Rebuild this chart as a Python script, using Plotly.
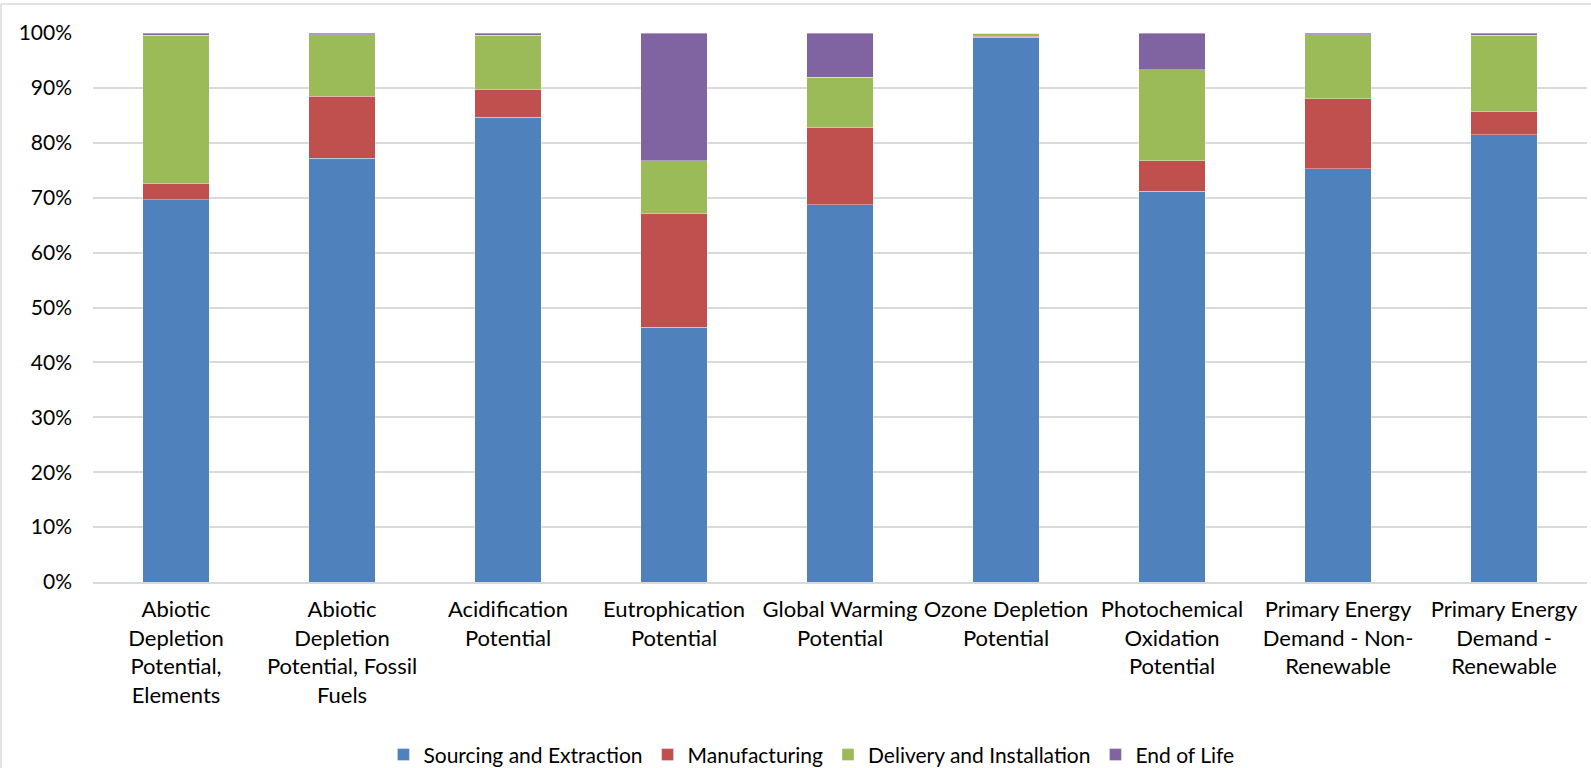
import plotly.graph_objects as go

categories = [
    "Abiotic<br>Depletion<br>Potential,<br>Elements",
    "Abiotic<br>Depletion<br>Potential, Fossil<br>Fuels",
    "Acidification<br>Potential",
    "Eutrophication<br>Potential",
    "Global Warming<br>Potential",
    "Ozone Depletion<br>Potential",
    "Photochemical<br>Oxidation<br>Potential",
    "Primary Energy<br>Demand - Non-<br>Renewable",
    "Primary Energy<br>Demand -<br>Renewable",
]
sourcing = [69.6, 77.2, 84.7, 46.4, 68.7, 99.2, 71.2, 75.3, 81.5]
manufacturing = [2.9, 11.3, 5.1, 20.7, 14.1, 0.2, 5.5, 12.7, 4.2]
delivery = [27.1, 11.2, 9.8, 9.6, 9.1, 0.6, 16.6, 11.7, 13.9]
end_of_life = [0.4, 0.3, 0.4, 23.3, 8.1, 0.0, 6.7, 0.3, 0.4]

series = [
    ("Sourcing and Extraction", sourcing, "#4F81BD"),
    ("Manufacturing", manufacturing, "#C0504D"),
    ("Delivery and Installation", delivery, "#9BBB59"),
    ("End of Life", end_of_life, "#8064A2"),
]

FONT = "Lato, Open Sans, sans-serif"

fig = go.Figure()
for name, vals, color in series:
    fig.add_trace(go.Bar(
        x=categories, y=vals, name=name,
        marker=dict(color=color, line=dict(color="rgba(255,255,255,0.6)", width=0.6)),
    ))

W, H = 1591, 768
L, R, T, B = 93, 4, 33, 186

fig.update_layout(
    barmode="stack",
    bargap=0.6,
    width=W, height=H,
    margin=dict(l=L, r=R, t=T, b=B),
    paper_bgcolor="white",
    plot_bgcolor="white",
    font=dict(family=FONT, size=21, color="#000000"),
    showlegend=True,
    legend=dict(
        orientation="h",
        xref="container", yref="container",
        x=0.51, y=0.017, xanchor="center", yanchor="middle",
        font=dict(family=FONT, size=21, color="#000000"),
        traceorder="normal",
    ),
    xaxis=dict(
        showgrid=False,
        showline=True, linecolor="#D9D9D9", linewidth=1.5,
        ticks="", tickfont=dict(family=FONT, size=22, color="#000000"),
        tickangle=0, ticklabelstandoff=7,
    ),
    yaxis=dict(
        range=[0, 100], dtick=10, ticksuffix="%",
        showgrid=True, gridcolor="#D9D9D9", gridwidth=1.5,
        zeroline=False, showline=False, ticks="",
        tickfont=dict(family=FONT, size=21, color="#000000"),
        ticklabelstandoff=20,
    ),
    shapes=[
        dict(type="line", xref="paper", yref="paper",
             x0=-(L - 1) / (W - L - R), x1=1 + R / (W - L - R),
             y0=1 + (T - 4) / (H - T - B), y1=1 + (T - 4) / (H - T - B),
             line=dict(color="#D9D9D9", width=1.5)),
        dict(type="line", xref="paper", yref="paper",
             x0=-(L - 1) / (W - L - R), x1=-(L - 1) / (W - L - R),
             y0=1 + (T - 4) / (H - T - B), y1=-B / (H - T - B),
             line=dict(color="#D9D9D9", width=1.5)),
    ],
)

fig.write_html("out.html")
